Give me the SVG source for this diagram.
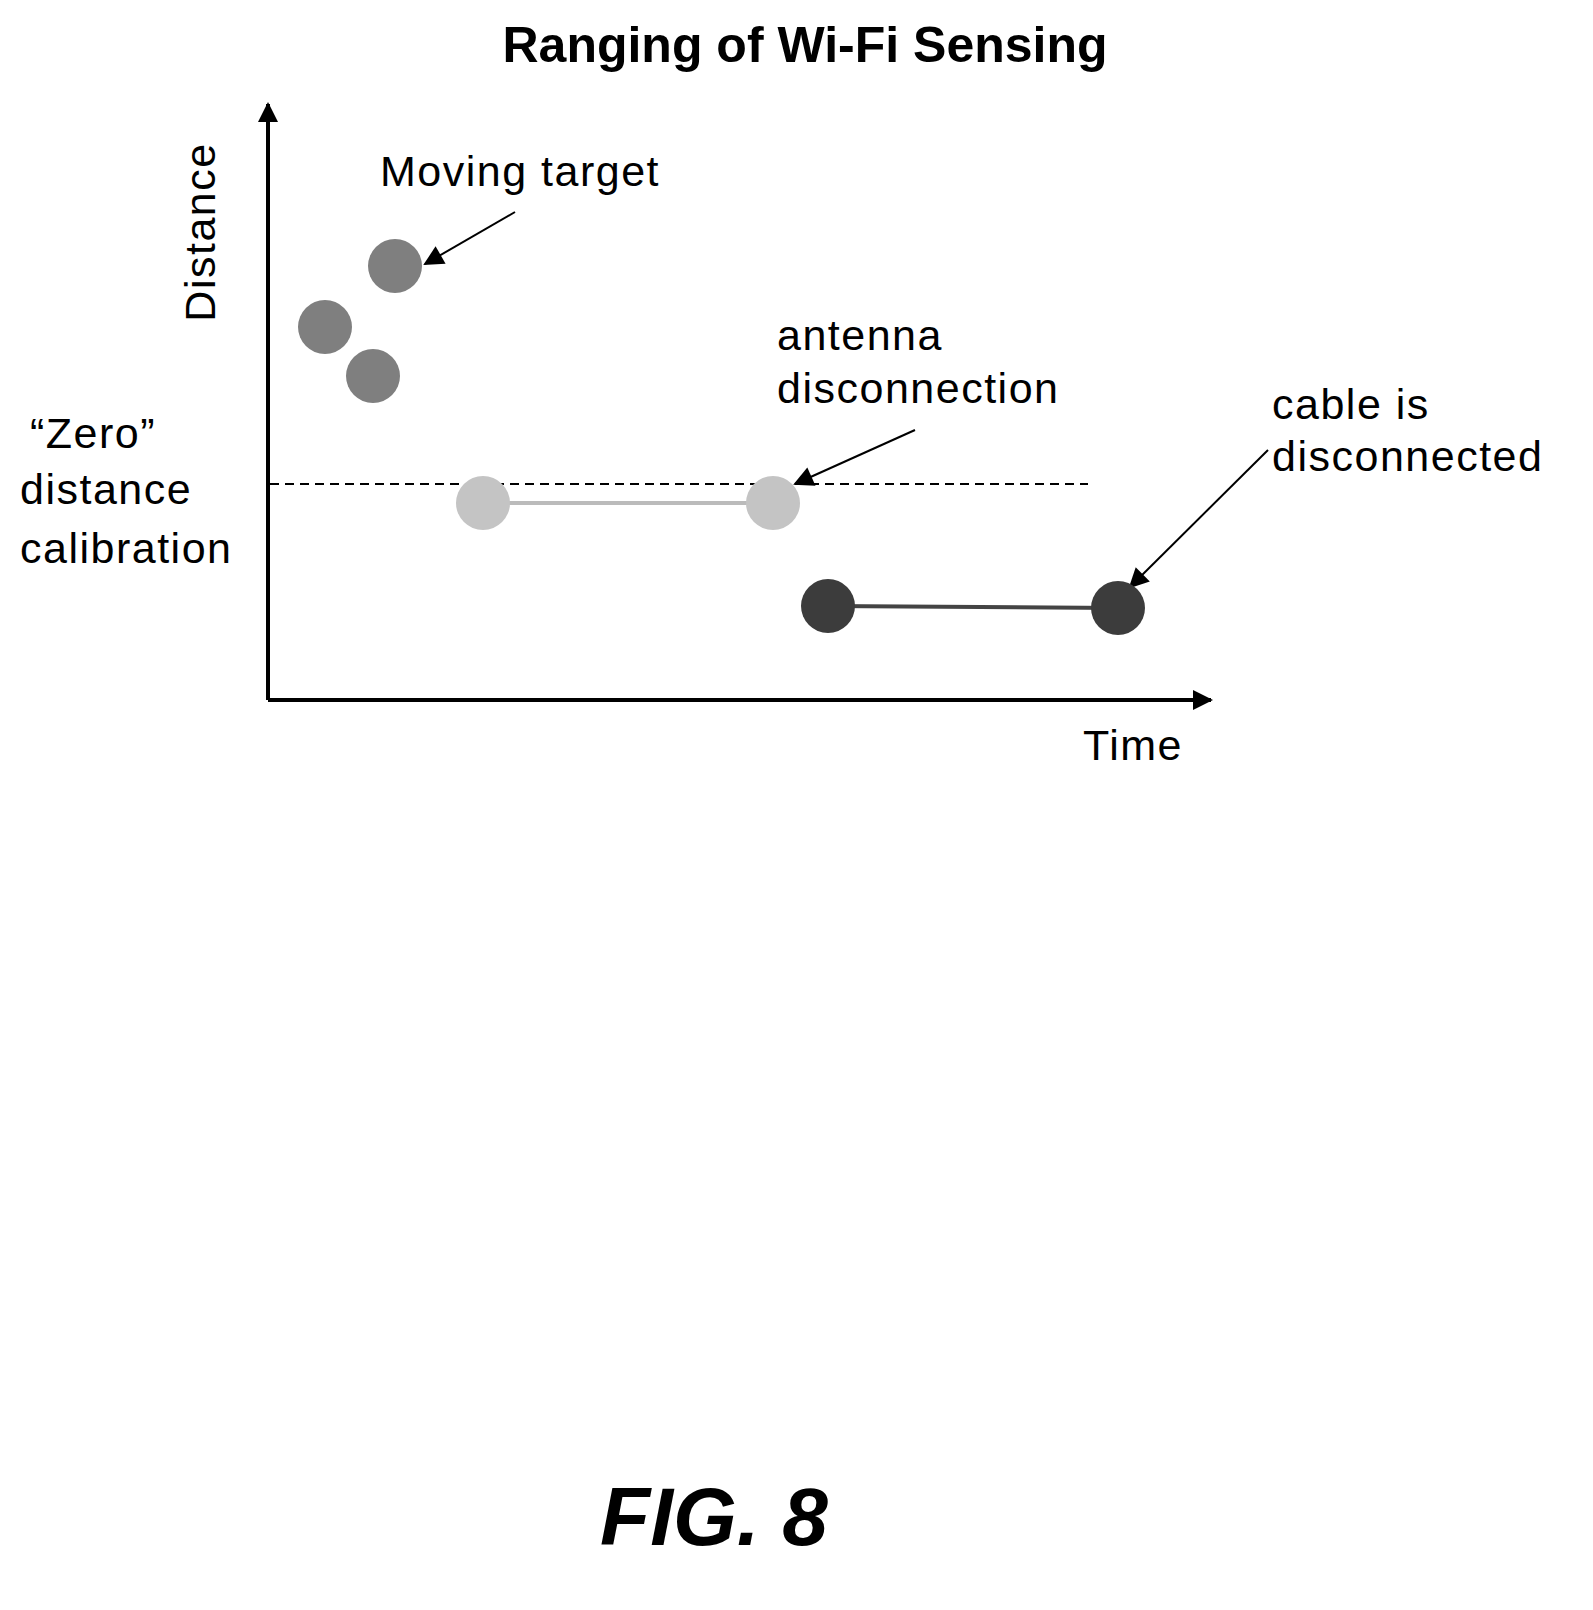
<svg xmlns="http://www.w3.org/2000/svg" width="1593" height="1610" viewBox="0 0 1593 1610">
<style>
text{font-family:"Liberation Sans",Arial,sans-serif;fill:#000}
.lbl{font-size:43px;letter-spacing:1.5px}
.ax{stroke:#000;stroke-width:4;fill:none}
.ptr{stroke:#000;stroke-width:2;fill:none}
</style>
<defs>
<marker id="ap" viewBox="0 0 10 10" refX="9" refY="5" markerWidth="22" markerHeight="20" markerUnits="userSpaceOnUse" orient="auto"><path d="M0,0L10,5L0,10z" fill="#000"/></marker>
</defs>
<rect width="1593" height="1610" fill="#fff"/>
<text x="805" y="62" text-anchor="middle" font-size="50" font-weight="bold">Ranging of Wi-Fi Sensing</text>
<g id="connectors">
<line class="ax" x1="268" y1="700" x2="268" y2="104" marker-end="url(#ap)"/>
<line class="ax" x1="268" y1="700" x2="1211" y2="700" marker-end="url(#ap)"/>
<line x1="270" y1="484" x2="1088" y2="484" stroke="#000" stroke-width="2" stroke-dasharray="9,6"/>
<line x1="483" y1="503" x2="773" y2="503" stroke="#bbb" stroke-width="4"/>
<line x1="828" y1="606" x2="1118" y2="608" stroke="#444" stroke-width="4"/>
<line class="ptr" x1="515" y1="212" x2="425" y2="264" marker-end="url(#ap)"/>
<line class="ptr" x1="915" y1="430" x2="795" y2="484" marker-end="url(#ap)"/>
<line class="ptr" x1="1268" y1="450" x2="1130" y2="587" marker-end="url(#ap)"/>
</g>
<g id="moving"><circle cx="395" cy="266" r="27" fill="#7f7f7f"/><circle cx="325" cy="327" r="27" fill="#7f7f7f"/><circle cx="373" cy="376" r="27" fill="#7f7f7f"/></g>
<g id="antenna"><circle cx="483" cy="503" r="27" fill="#c4c4c4"/><circle cx="773" cy="503" r="27" fill="#c4c4c4"/></g>
<g id="cable"><circle cx="828" cy="606" r="27" fill="#3c3c3c"/><circle cx="1118" cy="608" r="27" fill="#3c3c3c"/></g>
<text class="lbl" transform="translate(215,232) rotate(-90)" text-anchor="middle">Distance</text>
<text class="lbl" x="380" y="186">Moving target</text>
<text class="lbl" x="777" y="350">antenna</text>
<text class="lbl" x="777" y="403">disconnection</text>
<text class="lbl" x="1272" y="419">cable is</text>
<text class="lbl" x="1272" y="471">disconnected</text>
<text class="lbl" x="30" y="448">“Zero”</text>
<text class="lbl" x="20" y="504">distance</text>
<text class="lbl" x="20" y="563">calibration</text>
<text class="lbl" x="1083" y="760">Time</text>
<text x="714" y="1545" text-anchor="middle" font-size="82" font-weight="bold" font-style="italic">FIG. 8</text>
</svg>
